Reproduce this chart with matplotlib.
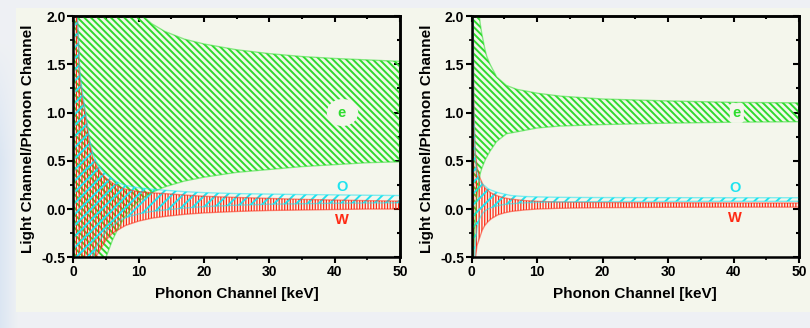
import numpy as np
import matplotlib
matplotlib.use("Agg")
import matplotlib.pyplot as plt
from matplotlib.ticker import MultipleLocator
from matplotlib.patches import Rectangle, Ellipse

plt.rcParams['font.family'] = ['Liberation Sans', 'DejaVu Sans']
plt.rcParams['font.weight'] = 'bold'

# ---------------- left panel: band limits (light/phonon ratio) ----------------
left_e_x = [0, 2, 4, 5, 6, 7, 8, 9, 10, 11, 12, 14, 17, 20, 25, 30, 35, 40, 45, 50]
left_e_hi = [4.0, 4.0, 4.0, 4.0, 4.0, 3.2, 2.6, 2.3, 2.07, 1.98, 1.92, 1.84, 1.76, 1.71,
             1.65, 1.61, 1.58, 1.56, 1.545, 1.53]
left_e_lo = [-3.0, -2.0, -0.75, -0.5, -0.32, -0.18, -0.07, 0.02, 0.08, 0.13, 0.17, 0.23,
             0.29, 0.33, 0.38, 0.41, 0.44, 0.46, 0.48, 0.49]

left_low_x = [0.3, 0.6, 1.0, 1.4, 1.8, 2.5, 3.0, 3.6, 4.3, 5, 6, 7, 8, 10, 12, 14, 17,
              20, 25, 30, 35, 40, 45, 50]
left_o_hi = [4.0, 2.1, 1.42, 1.2, 1.04, 0.72, 0.57, 0.48, 0.41, 0.36, 0.31, 0.27, 0.245,
             0.22, 0.205, 0.195, 0.18, 0.17, 0.16, 0.155, 0.15, 0.147, 0.143, 0.14]
left_o_lo = [-4.0, -2.2, -1.5, -1.15, -0.9, -0.62, -0.5, -0.38, -0.3, -0.23, -0.17, -0.12,
             -0.09, -0.05, -0.025, -0.01, 0.01, 0.025, 0.04, 0.05, 0.055, 0.06, 0.063, 0.065]
left_w_hi = [4.0, 2.0, 1.36, 1.15, 1.0, 0.68, 0.52, 0.44, 0.37, 0.32, 0.27, 0.23, 0.205,
             0.18, 0.168, 0.16, 0.145, 0.132, 0.12, 0.11, 0.1, 0.093, 0.087, 0.082]
left_w_lo = [-4.0, -2.4, -1.6, -1.25, -1.0, -0.72, -0.6, -0.48, -0.4, -0.32, -0.25, -0.21,
             -0.17, -0.125, -0.095, -0.077, -0.055, -0.04, -0.025, -0.015, -0.01, -0.005,
             0.0, 0.0]

# ---------------- right panel: band limits (light/phonon ratio) ----------------
right_e_x = [0.2, 0.25, 0.5, 0.76, 1.0, 1.16, 1.3, 1.53, 2.0, 2.3, 2.8, 3.8, 5.3, 6.9,
             10, 13.5, 20, 30, 40, 50]
right_e_hi = [9.0, 8.0, 4.3, 2.9, 2.2, 2.0, 1.92, 1.82, 1.66, 1.58, 1.5, 1.37, 1.28, 1.24,
              1.2, 1.17, 1.14, 1.12, 1.105, 1.10]
right_e_lo = [-1.0, -0.5, -0.15, 0.1, 0.25, 0.3, 0.37, 0.42, 0.5, 0.54, 0.6, 0.7, 0.78,
              0.8, 0.84, 0.86, 0.875, 0.89, 0.9, 0.905]

right_low_x = [0.15, 0.3, 0.5, 0.8, 1.2, 1.6, 2.0, 2.5, 3, 4, 5, 6, 8, 10, 13, 16, 20, 25,
               30, 40, 50]
right_o_hi = [3.2, 1.1, 0.55, 0.37, 0.29, 0.26, 0.24, 0.21, 0.195, 0.17, 0.155, 0.14, 0.13,
              0.126, 0.122, 0.12, 0.119, 0.118, 0.118, 0.117, 0.117]
right_o_lo = [-3.0, -0.9, -0.4, -0.2, -0.1, -0.05, -0.02, 0.0, 0.015, 0.035, 0.048, 0.055,
              0.064, 0.069, 0.073, 0.075, 0.077, 0.078, 0.079, 0.08, 0.08]
right_w_hi = [3.0, 1.2, 0.62, 0.44, 0.33, 0.27, 0.22, 0.19, 0.165, 0.135, 0.115, 0.103,
              0.088, 0.08, 0.073, 0.07, 0.068, 0.066, 0.065, 0.063, 0.062]
right_w_lo = [-3.0, -1.0, -0.55, -0.38, -0.3, -0.22, -0.17, -0.13, -0.1, -0.06, -0.04,
              -0.025, -0.01, 0.0, 0.007, 0.011, 0.014, 0.016, 0.018, 0.02, 0.02]

# ---------------- axes text ----------------
x_ticks = [0, 10, 20, 30, 40, 50]
x_tick_labels = ['0', '10', '20', '30', '40', '50']
y_ticks = [-0.5, 0.0, 0.5, 1.0, 1.5, 2.0]
y_tick_labels = ['-0.5', '0.0', '0.5', '1.0', '1.5', '2.0']
x_label = 'Phonon Channel [keV]'
y_label = 'Light Channel/Phonon Channel'
band_names = ['e', 'O', 'W']
left_name_x = [41.1, 41.1, 41.1]
left_name_y = [1.0, 0.224, -0.118]
right_name_x = [40.5, 40.2, 40.2]
right_name_y = [0.995, 0.218, -0.093]

GREEN = '#2edc2e'
CYAN = '#1fe3ef'
RED = '#ff2a14'
CREAM = '#f4f6ec'

W, H = 810, 328
fig = plt.figure(figsize=(W / 100, H / 100), dpi=100)

# page background with a soft blue tint on the far left
bg = fig.add_axes([0, 0, 1, 1], zorder=-10)
bg.set_axis_off()
yy, xx = np.mgrid[0:H, 0:W]
base = np.array([0.937, 0.945, 0.957])
tint = np.array([0.84, 0.89, 0.95])
wgt = np.clip(1 - xx / 18.0, 0, 1) * np.clip((yy - 40) / 120.0, 0, 1) * 0.8
img = base[None, None, :] * (1 - wgt[..., None]) + tint[None, None, :] * wgt[..., None]
bg.imshow(img, extent=[0, W, H, 0], aspect='auto', interpolation='bilinear')
bg.set_xlim(0, W)
bg.set_ylim(H, 0)
bg.add_patch(Rectangle((16, 8), W - 16, 304, facecolor=CREAM, edgecolor='none'))


def fill_band(ax, x, lo, hi, color, hatch, hlw):
    with plt.rc_context({'hatch.linewidth': hlw}):
        coll = ax.fill_between(x, lo, hi, facecolor='none', edgecolor=color,
                               hatch=hatch, linewidth=0)
        if hasattr(coll, 'set_hatch_linewidth'):
            coll.set_hatch_linewidth(hlw)
    ax.plot(x, hi, color=color, lw=1.0, alpha=0.55)
    ax.plot(x, lo, color=color, lw=1.0, alpha=0.55)


def style_axes(ax, ylabel_x):
    ax.set_facecolor(CREAM)
    ax.set_xlim(0, 50)
    ax.set_ylim(-0.5, 2.0)
    ax.set_xticks(x_ticks)
    ax.set_xticklabels(x_tick_labels)
    ax.set_yticks(y_ticks)
    ax.set_yticklabels(y_tick_labels)
    ax.xaxis.set_minor_locator(MultipleLocator(5))
    ax.yaxis.set_minor_locator(MultipleLocator(0.25))
    ax.tick_params(which='major', direction='out', length=4, width=1.5,
                   labelsize=10, pad=1.5)
    ax.tick_params(which='minor', direction='out', length=2.5, width=1.2)
    for s in ax.spines.values():
        s.set_linewidth(1.8)
    top = ax.secondary_xaxis('top')
    top.set_xticks(x_ticks)
    top.xaxis.set_minor_locator(MultipleLocator(5))
    top.tick_params(which='both', direction='in', labeltop=False, width=1.5)
    top.tick_params(which='major', length=4)
    top.tick_params(which='minor', length=2.5)
    top.spines['top'].set_linewidth(1.8)
    right = ax.secondary_yaxis('right')
    right.set_yticks(y_ticks)
    right.yaxis.set_minor_locator(MultipleLocator(0.25))
    right.tick_params(which='both', direction='in', labelright=False, width=1.5)
    right.tick_params(which='major', length=4)
    right.tick_params(which='minor', length=2.5)
    right.spines['right'].set_linewidth(1.8)
    ax.set_xlabel(x_label, fontsize=11, fontweight='bold')
    ax.set_ylabel(y_label, fontsize=11, fontweight='bold')
    ax.xaxis.set_label_coords(0.5, -0.125)
    ax.yaxis.set_label_coords(ylabel_x, 0.49)


axL = fig.add_axes([73.3 / W, (H - 257.3) / H, 326.7 / W, 241.3 / H])
axR = fig.add_axes([471.7 / W, (H - 257.3) / H, 327.3 / W, 241.3 / H])

GREEN_HATCH = '\\' * 5
RED_HATCH = '|' * 6
CYAN_HATCH = '/' * 3

fill_band(axL, left_e_x, left_e_lo, left_e_hi, GREEN, GREEN_HATCH, 1.4)
fill_band(axL, left_low_x, left_w_lo, left_w_hi, RED, RED_HATCH, 0.9)
fill_band(axL, left_low_x, left_o_lo, left_o_hi, CYAN, CYAN_HATCH, 1.4)

fill_band(axR, right_e_x, right_e_lo, right_e_hi, GREEN, GREEN_HATCH, 1.4)
fill_band(axR, right_low_x, right_w_lo, right_w_hi, RED, RED_HATCH, 0.9)
fill_band(axR, right_low_x, right_o_lo, right_o_hi, CYAN, CYAN_HATCH, 1.4)

style_axes(axL, -0.118)
style_axes(axR, -0.115)

# clear oval behind the "e" tag in the left panel
axL.add_patch(Ellipse((left_name_x[0] + 0.1, left_name_y[0]), 4.8, 0.28,
                      facecolor=CREAM, edgecolor='none', zorder=4))

name_colors = [GREEN, CYAN, RED]
for ax, nx, ny, boxed in ((axL, left_name_x, left_name_y, False),
                          (axR, right_name_x, right_name_y, True)):
    for name, x, y, c in zip(band_names, nx, ny, name_colors):
        kw = dict(ha='center', va='center', color=c, fontsize=10.5, fontweight='bold',
                  zorder=5)
        if name == 'e' and boxed:
            kw['bbox'] = dict(boxstyle='round,pad=0.2', facecolor=CREAM, edgecolor='none')
        ax.text(x, y, name, **kw)

fig.savefig('out.png', dpi=100, facecolor=fig.get_facecolor())
